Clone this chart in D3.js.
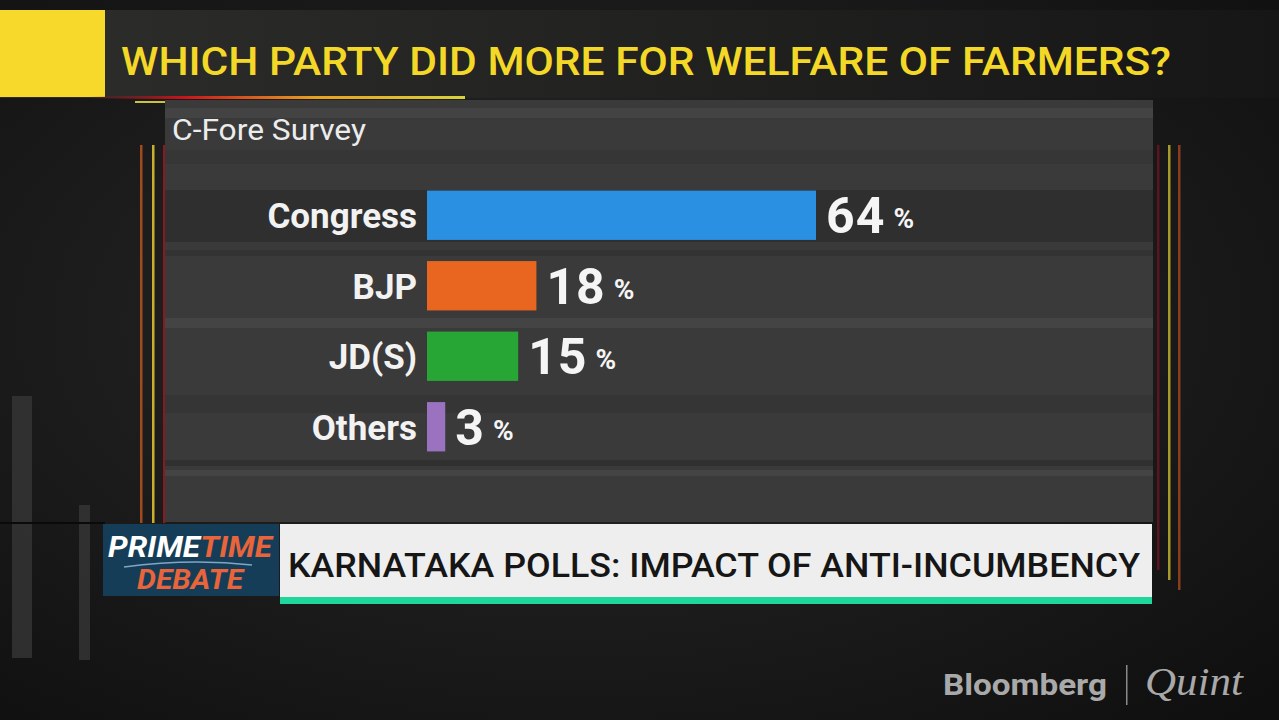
<!DOCTYPE html>
<html>
<head>
<meta charset="utf-8">
<script src="https://cdn.jsdelivr.net/npm/d3@7"></script>
<style>
  body { margin: 0; background: #141414; }
  svg { display: block; }
</style>
</head>
<body>
<svg id="chart"></svg>
<script>
// data
let parties = ["Congress", "BJP", "JD(S)", "Others"];
let shares = [64, 18, 15, 3];
let barColors = ["#2a90e2", "#e8661f", "#27a535", "#9a72bf"];

let title = "WHICH PARTY DID MORE FOR WELFARE OF FARMERS?";
let source = "C-Fore Survey";
let ticker = "KARNATAKA POLLS: IMPACT OF ANTI-INCUMBENCY";

let w = 1279, h = 720;
let svg = d3.select("#chart").attr("width", w).attr("height", h);
let defs = svg.append("defs");

let bg = defs.append("radialGradient").attr("id", "bg").attr("cx", "45%").attr("cy", "45%").attr("r", "75%");
bg.append("stop").attr("offset", "0%").attr("stop-color", "#2a2a2a");
bg.append("stop").attr("offset", "100%").attr("stop-color", "#0f0f0f");
svg.append("rect").attr("width", w).attr("height", h).attr("fill", "url(#bg)");

// faint grey columns bottom-left
svg.append("rect").attr("x", 12).attr("y", 396).attr("width", 20).attr("height", 262).attr("fill", "#3a3a3a").attr("opacity", 0.7);
svg.append("rect").attr("x", 79).attr("y", 505).attr("width", 11).attr("height", 155).attr("fill", "#3a3a3a").attr("opacity", 0.7);
svg.append("rect").attr("x", 0).attr("y", 522).attr("width", 105).attr("height", 2).attr("fill", "#0a0a0a");

// title band
let tb = defs.append("linearGradient").attr("id", "tband");
tb.append("stop").attr("offset", "0%").attr("stop-color", "#2d2d2b");
tb.append("stop").attr("offset", "100%").attr("stop-color", "#161616");
svg.append("rect").attr("x", 0).attr("y", 10).attr("width", w).attr("height", 88).attr("fill", "url(#tband)");
svg.append("rect").attr("x", 0).attr("y", 10).attr("width", 105).attr("height", 87).attr("fill", "#f6d92a");
svg.append("text").attr("x", 121).attr("y", 75)
  .attr("font-family", "Roboto, 'Liberation Sans', sans-serif").attr("font-size", 38).attr("font-weight", 500)
  .attr("fill", "#f4d828").attr("textLength", 1050).attr("lengthAdjust", "spacingAndGlyphs")
  .text(title);

let ul = defs.append("linearGradient").attr("id", "ul");
ul.append("stop").attr("offset", "0%").attr("stop-color", "#b0121a").attr("stop-opacity", 0);
ul.append("stop").attr("offset", "25%").attr("stop-color", "#c8141c");
ul.append("stop").attr("offset", "60%").attr("stop-color", "#e8a020");
ul.append("stop").attr("offset", "100%").attr("stop-color", "#d8d23a");
svg.append("rect").attr("x", 90).attr("y", 96).attr("width", 375).attr("height", 3).attr("fill", "url(#ul)");
svg.append("rect").attr("x", 135).attr("y", 101).attr("width", 148).attr("height", 2).attr("fill", "#c8c43a");

// side lines
let leftLines = [[140, "#a04a1e"], [152, "#c8b02c"], [163, "#8a1a22"]];
leftLines.forEach(d => svg.append("rect").attr("x", d[0]).attr("y", 145).attr("width", 2.5).attr("height", 378).attr("fill", d[1]));
let rightLines = [[1157, "#5a1520"], [1168, "#a89a2a"], [1178, "#8a3c1e"]];
rightLines.forEach((d, i) => svg.append("rect").attr("x", d[0]).attr("y", 145).attr("width", 2.5).attr("height", 425 + i * 10).attr("fill", d[1]));

// panel
let px = 165, py = 100, pw = 988, ph = 422;
svg.append("rect").attr("x", px).attr("y", py).attr("width", pw).attr("height", ph).attr("fill", "#3a3a3b");
let stripes = [[108, 10, "#434344"], [150, 14, "#363637"], [190, 52, "#2f2f30"], [250, 6, "#333334"], [318, 10, "#444445"], [395, 18, "#353536"], [460, 6, "#303031"], [470, 6, "#444445"]];
stripes.forEach(s => svg.append("rect").attr("x", px).attr("y", s[0]).attr("width", pw).attr("height", s[1]).attr("fill", s[2]));

svg.append("text").attr("x", 172).attr("y", 140)
  .attr("font-family", "Roboto, sans-serif").attr("font-size", 29).attr("fill", "#ececec")
  .attr("textLength", 194).attr("lengthAdjust", "spacingAndGlyphs")
  .text(source);

// scales
let x = d3.scaleLinear().domain([0, 64]).range([427, 816]);
let y = d3.scaleBand().domain(parties).range([180, 462]).paddingInner(0.3).paddingOuter(0.15);

let rows = svg.append("g").selectAll("g").data(parties).enter().append("g");

rows.append("rect")
  .attr("x", x(0))
  .attr("y", d => y(d))
  .attr("width", (d, i) => x(shares[i]) - x(0))
  .attr("height", y.bandwidth())
  .attr("fill", (d, i) => barColors[i]);

rows.append("text")
  .attr("x", x(0) - 10)
  .attr("y", d => y(d) + y.bandwidth() / 2 + 13)
  .attr("text-anchor", "end")
  .attr("font-family", "Roboto, sans-serif").attr("font-size", 35).attr("font-weight", 700)
  .attr("fill", "#f2f2f2")
  .text(d => d);

let vt = rows.append("text")
  .attr("x", (d, i) => x(shares[i]) + 10)
  .attr("y", d => y(d) + y.bandwidth() / 2 + 18)
  .attr("font-family", "Roboto, sans-serif").attr("fill", "#f5f5f5");
vt.append("tspan").attr("font-size", 50).attr("font-weight", 700).attr("letter-spacing", 1).text((d, i) => shares[i]);
vt.append("tspan").attr("font-size", 28).attr("font-weight", 700).attr("dx", 8).attr("dy", -5).text("%");

// bottom ticker
svg.append("rect").attr("x", 103).attr("y", 524).attr("width", 176).attr("height", 72).attr("fill", "#163d57");
svg.append("text").attr("x", 108).attr("y", 557)
  .attr("font-family", "Roboto, sans-serif").attr("font-size", 29).attr("font-weight", 700).attr("font-style", "italic")
  .attr("textLength", 164).attr("lengthAdjust", "spacingAndGlyphs")
  .call(t => {
    t.append("tspan").attr("fill", "#ffffff").text("PRIME");
    t.append("tspan").attr("fill", "#e8643a").text("TIME");
  });
svg.append("path").attr("d", "M124,567 Q190,558 252,565").attr("stroke", "#7fa6c4").attr("stroke-width", 1.5).attr("fill", "none");
svg.append("text").attr("x", 137).attr("y", 589)
  .attr("font-family", "Roboto, sans-serif").attr("font-size", 28).attr("font-weight", 700).attr("font-style", "italic")
  .attr("textLength", 106).attr("lengthAdjust", "spacingAndGlyphs")
  .attr("fill", "#e8643a").text("DEBATE");

svg.append("rect").attr("x", 280).attr("y", 524).attr("width", 872).attr("height", 74).attr("fill", "#eeeeee");
svg.append("rect").attr("x", 280).attr("y", 597).attr("width", 872).attr("height", 7).attr("fill", "#1fd69b");
svg.append("text").attr("x", 288).attr("y", 577)
  .attr("font-family", "Roboto, sans-serif").attr("font-size", 33).attr("font-weight", 500)
  .attr("fill", "#161616").attr("textLength", 852).attr("lengthAdjust", "spacingAndGlyphs")
  .text(ticker);

// logo
svg.append("text").attr("x", 943).attr("y", 695)
  .attr("font-family", "Roboto, sans-serif").attr("font-size", 29).attr("font-weight", 700)
  .attr("fill", "#a9a9a9").attr("textLength", 164).attr("lengthAdjust", "spacingAndGlyphs")
  .text("Bloomberg");
svg.append("rect").attr("x", 1126).attr("y", 665).attr("width", 1.5).attr("height", 40).attr("fill", "#8a8a8a");
svg.append("text").attr("x", 1145).attr("y", 695)
  .attr("font-family", "'Liberation Serif', serif").attr("font-size", 40).attr("font-style", "italic")
  .attr("fill", "#a9a9a9").attr("textLength", 98).attr("lengthAdjust", "spacingAndGlyphs")
  .text("Quint");
</script>
</body>
</html>
